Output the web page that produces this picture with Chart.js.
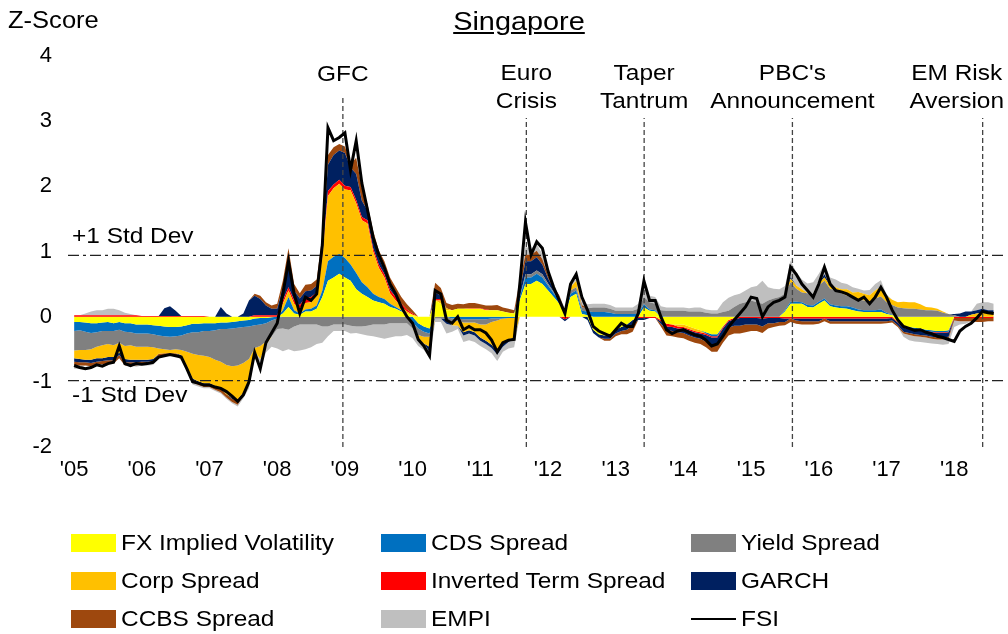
<!DOCTYPE html>
<html>
<head>
<meta charset="utf-8">
<script src="https://cdn.jsdelivr.net/npm/chart.js@4.4.1/dist/chart.umd.min.js"></script>
<style>
  html, body { margin: 0; padding: 0; background: #fff; }
  #wrap { position: relative; width: 1008px; height: 634px; font-family: "Liberation Sans", Arial, sans-serif; color: #000; }
  #chart { position: absolute; left: 0; top: 0; }
  #title { position: absolute; left: 0; width: 1038px; top: 6px; text-align: center; font-size: 26px; text-decoration: underline; transform: scaleX(1.11); transform-origin: 519px 50%; }
  #ylab { position: absolute; left: 8px; top: 7px; font-size: 23px; transform: scaleX(1.11); transform-origin: left center; }
  #legend { position: absolute; left: 71px; top: 524px; display: grid; grid-template-columns: 310px 310px 310px; grid-auto-rows: 38px; font-size: 22px; }
  .item { display: flex; align-items: center; }
  .item span.txt { display: inline-block; transform: scaleX(1.11); transform-origin: left center; white-space: nowrap; }
  .sw { width: 45px; height: 18px; margin-right: 5px; }
  .ln { width: 45px; height: 2px; margin-right: 5px; background: #000; }
</style>
</head>
<body>
<div id="wrap">
  <canvas id="chart" width="1008" height="634"></canvas>
  <div id="title">Singapore</div>
  <div id="ylab">Z-Score</div>
  <div id="legend"></div>
</div>
<script>
// monthly observations, Jan 2005 - Aug 2018
var fxVol = [
  -0.08,-0.08,-0.09,-0.10,-0.10,-0.09,-0.08,-0.10,-0.08,-0.10,-0.10,-0.12,
  -0.12,-0.12,-0.13,-0.14,-0.15,-0.16,-0.16,-0.15,-0.13,-0.11,-0.11,-0.10,
  -0.10,-0.10,-0.09,-0.09,-0.08,-0.07,-0.06,-0.05,-0.03,-0.02,-0.02,-0.01,
  0.00,0.05,0.15,0.05,0.03,0.08,0.08,0.12,0.30,0.55,0.60,0.66,
  0.60,0.55,0.42,0.35,0.30,0.25,0.22,0.20,0.15,0.12,0.08,0.05,
  0.03,-0.10,-0.15,-0.18,0.25,0.20,0.10,0.10,0.12,0.12,0.12,0.12,
  0.12,0.10,0.10,0.10,0.08,0.06,0.05,0.25,0.50,0.50,0.55,0.50,
  0.40,0.30,0.20,0.04,0.30,0.35,0.04,0.02,-0.20,-0.27,-0.29,-0.29,
  -0.20,-0.16,-0.12,-0.05,0.00,0.14,0.09,0.08,-0.05,-0.11,-0.12,-0.12,
  -0.12,-0.15,-0.18,-0.21,-0.24,-0.27,-0.27,-0.15,-0.05,-0.02,0.00,0.00,
  0.00,0.00,0.00,0.00,0.00,0.00,0.08,0.20,0.20,0.20,0.15,0.14,
  0.20,0.25,0.16,0.14,0.13,0.12,0.10,0.08,0.07,0.07,0.07,0.07,
  0.04,0.02,-0.08,-0.14,-0.16,-0.17,-0.18,-0.20,-0.21,-0.22,-0.22,-0.21,
  0.00,0.00,0.00,0.00,0.00,0.00,0.00,0.00
];
var cdsSpread = [
  -0.14,-0.13,-0.14,-0.15,-0.14,-0.13,-0.14,-0.12,-0.12,-0.13,-0.14,-0.14,
  -0.14,-0.14,-0.14,-0.15,-0.15,-0.15,-0.14,-0.14,-0.13,-0.13,-0.13,-0.12,
  -0.12,-0.11,-0.10,-0.10,-0.10,-0.10,-0.10,-0.10,-0.10,-0.10,-0.08,-0.05,
  -0.03,0.05,0.15,0.05,0.02,0.03,0.04,0.05,0.10,0.30,0.32,0.30,
  0.30,0.25,0.25,0.18,0.15,0.10,0.08,0.07,0.05,0.03,0.02,0.00,
  -0.08,-0.08,-0.08,-0.08,0.00,0.00,0.00,-0.03,-0.03,-0.04,-0.04,-0.04,
  -0.04,-0.04,-0.03,-0.03,-0.03,-0.02,-0.02,0.05,0.10,0.10,0.11,0.10,
  0.08,0.06,0.05,0.03,0.05,0.05,0.05,0.06,0.07,0.07,0.07,0.06,
  0.04,0.04,0.04,0.04,0.04,0.05,0.02,0.02,0.01,0.00,0.00,0.00,
  0.00,0.00,0.00,0.00,-0.02,-0.03,-0.03,-0.01,0.00,0.00,0.00,0.00,
  0.00,0.00,0.00,0.00,0.00,0.00,0.02,0.03,0.03,0.02,0.03,0.03,
  0.03,0.03,0.03,0.03,0.03,0.04,0.04,0.03,0.03,0.03,0.03,0.04,
  0.02,0.01,0.00,-0.02,-0.02,-0.03,-0.03,-0.02,-0.02,-0.02,-0.02,-0.02,
  0.00,0.00,0.00,0.00,0.00,0.00,0.00,0.00
];
var yieldSpread = [
  -0.30,-0.30,-0.28,-0.25,-0.22,-0.22,-0.20,-0.22,-0.20,-0.22,-0.20,-0.20,
  -0.20,-0.20,-0.20,-0.20,-0.20,-0.20,-0.20,-0.22,-0.28,-0.33,-0.35,-0.38,
  -0.40,-0.45,-0.50,-0.55,-0.58,-0.58,-0.55,-0.50,-0.35,-0.33,-0.28,-0.25,
  -0.16,-0.18,-0.20,-0.15,-0.12,-0.12,-0.12,-0.12,-0.15,-0.15,-0.12,-0.12,
  -0.12,-0.14,-0.15,-0.15,-0.14,-0.12,-0.12,-0.12,-0.10,-0.10,-0.10,-0.10,
  -0.10,-0.10,-0.08,-0.05,-0.03,-0.03,-0.03,-0.05,-0.03,-0.05,-0.05,-0.05,
  -0.08,-0.08,-0.05,-0.03,0.00,0.00,0.00,0.00,0.05,0.05,0.05,0.05,
  0.03,0.02,0.02,0.02,0.05,0.05,0.05,0.05,0.07,0.07,0.07,0.06,
  0.05,0.05,0.05,0.05,0.08,0.11,0.11,0.10,0.09,0.09,0.09,0.09,
  0.09,0.08,0.08,0.08,0.06,0.05,0.05,0.07,0.09,0.15,0.20,0.22,
  0.25,0.22,0.20,0.25,0.28,0.30,0.25,0.30,0.20,0.15,0.18,0.18,
  0.25,0.27,0.24,0.23,0.20,0.16,0.15,0.15,0.15,0.13,0.18,0.20,
  0.16,0.15,0.14,0.13,0.12,0.12,0.11,0.10,0.10,0.09,0.06,0.04,
  0.02,0.00,0.00,0.00,0.00,0.00,0.00,0.00
];
var corpSpread = [
  -0.12,-0.14,-0.15,-0.16,-0.18,-0.20,-0.20,-0.18,-0.15,-0.20,-0.22,-0.20,
  -0.20,-0.20,-0.18,-0.08,-0.06,-0.05,-0.06,-0.08,-0.22,-0.38,-0.40,-0.42,
  -0.40,-0.40,-0.42,-0.45,-0.48,-0.52,-0.45,-0.35,-0.05,-0.20,-0.05,0.00,
  0.00,0.10,0.10,0.10,0.08,0.10,0.10,0.15,0.50,1.00,1.05,1.08,
  1.05,1.14,1.07,0.95,0.98,0.65,0.45,0.33,0.16,0.10,0.06,0.03,
  0.00,-0.05,-0.10,-0.15,0.00,0.05,0.03,-0.05,-0.08,-0.15,-0.12,-0.15,
  -0.20,-0.25,-0.35,-0.47,-0.38,-0.33,-0.30,0.00,0.00,0.00,0.00,0.00,
  0.00,0.00,0.00,0.00,0.05,0.10,0.00,0.00,0.00,0.00,0.00,0.00,
  0.00,0.00,0.00,0.00,0.00,0.00,0.00,0.00,0.00,0.00,0.00,-0.03,
  -0.04,-0.04,-0.04,-0.03,0.00,0.00,0.00,0.00,0.00,0.00,0.00,0.00,
  0.00,0.00,0.00,0.00,0.00,0.00,0.00,0.05,0.05,0.05,0.00,0.00,
  0.03,0.05,0.05,0.05,0.06,0.10,0.08,0.12,0.10,0.10,0.12,0.15,
  0.10,0.08,0.08,0.10,0.10,0.10,0.08,0.05,0.04,0.03,0.02,0.00,
  0.00,0.00,0.00,0.03,0.05,0.06,0.05,0.05
];
var invTermSpread = [
  0.02,0.02,0.02,0.02,0.02,0.02,0.02,0.02,0.02,0.02,0.02,0.02,
  0.01,0.01,0.01,0.01,0.01,0.01,0.01,0.01,0.01,0.01,0.01,0.01,
  0.00,0.00,0.00,0.00,0.00,0.00,0.00,0.00,0.02,0.02,0.02,0.02,
  0.02,0.05,0.05,0.05,0.05,0.08,0.08,0.05,0.05,0.08,0.06,0.06,
  0.06,0.05,0.05,0.05,0.05,0.05,0.05,0.05,0.05,0.05,0.04,0.03,
  0.02,0.00,0.00,0.00,0.02,0.02,0.00,0.00,0.00,0.00,0.01,0.01,
  0.01,0.01,0.00,0.00,0.00,0.00,0.00,0.00,0.00,0.00,0.00,0.00,
  0.00,0.00,0.00,-0.04,0.00,0.00,0.00,0.00,0.00,0.00,0.00,0.00,
  0.00,0.00,0.00,0.00,-0.02,-0.02,-0.02,-0.02,-0.02,-0.04,-0.04,-0.03,
  -0.02,-0.02,-0.02,-0.02,-0.02,-0.02,-0.02,-0.02,-0.02,-0.02,-0.02,-0.02,
  -0.02,-0.02,-0.03,-0.02,-0.02,-0.02,-0.03,-0.03,-0.03,-0.03,-0.03,-0.03,
  -0.03,-0.03,-0.03,-0.03,-0.03,-0.03,-0.03,-0.03,-0.03,-0.03,-0.03,-0.03,
  -0.03,-0.02,-0.01,-0.01,-0.01,-0.01,-0.01,-0.01,-0.01,-0.01,-0.01,-0.01,
  -0.02,-0.02,-0.02,-0.02,-0.02,-0.02,-0.02,-0.02
];
var garch = [
  -0.05,-0.05,-0.04,-0.05,-0.05,-0.04,-0.05,-0.05,-0.04,-0.05,-0.04,-0.04,
  -0.03,-0.03,-0.03,0.00,0.12,0.15,0.08,-0.02,-0.02,-0.02,-0.02,-0.02,
  -0.02,-0.02,0.15,0.05,-0.02,-0.03,0.05,0.25,0.30,0.25,0.15,0.10,
  0.10,0.20,0.35,0.15,0.10,0.10,0.10,0.10,0.20,0.40,0.45,0.45,
  0.50,0.30,0.40,0.25,0.15,0.17,0.10,0.05,0.04,0.03,0.00,0.00,
  0.00,0.00,0.00,-0.08,0.10,0.05,-0.08,0.00,0.00,-0.05,-0.05,-0.05,
  -0.05,-0.05,-0.05,-0.05,-0.05,-0.04,-0.03,0.10,0.20,0.20,0.20,0.15,
  0.08,0.05,0.03,-0.03,0.00,0.00,0.00,-0.05,-0.05,-0.05,-0.05,-0.05,
  -0.06,-0.06,-0.08,-0.08,-0.03,-0.03,0.00,0.00,-0.04,-0.05,-0.06,-0.06,
  -0.07,-0.08,-0.08,-0.08,-0.10,-0.12,-0.12,-0.10,-0.10,-0.10,-0.12,-0.10,
  -0.10,-0.10,-0.12,-0.08,-0.08,-0.06,-0.05,0.03,-0.03,-0.04,-0.04,-0.04,
  -0.04,0.05,-0.04,-0.04,-0.04,-0.04,-0.04,-0.04,-0.04,-0.04,-0.04,-0.04,
  -0.04,-0.04,-0.04,-0.06,-0.06,-0.06,-0.06,-0.06,-0.07,-0.07,-0.07,-0.07,
  0.02,0.05,0.08,0.05,0.05,0.06,0.05,0.05
];
var ccbsSpread = [
  -0.05,-0.05,-0.05,-0.05,-0.05,-0.05,-0.05,-0.05,-0.05,-0.05,-0.05,-0.05,
  -0.04,-0.04,-0.04,-0.04,-0.04,-0.04,-0.04,-0.04,-0.04,-0.04,-0.04,-0.04,
  -0.04,-0.04,-0.05,-0.05,-0.05,-0.05,-0.05,-0.04,0.03,0.05,0.05,0.05,
  0.08,0.10,0.25,0.10,0.08,0.10,0.10,0.10,0.10,0.15,0.12,0.10,
  0.10,0.05,0.25,0.20,0.10,0.10,0.12,0.15,0.15,0.12,0.10,0.08,
  0.05,0.00,0.00,0.00,0.15,0.12,0.08,0.08,0.08,0.07,0.08,0.08,
  0.06,0.06,0.07,0.08,0.06,0.06,0.05,0.15,0.10,0.10,0.10,0.08,
  0.05,0.03,0.03,0.00,0.00,0.00,0.04,0.00,0.00,0.00,-0.03,-0.03,
  -0.04,-0.05,-0.07,-0.10,0.00,0.00,0.00,0.00,-0.04,-0.09,-0.08,-0.08,
  -0.08,-0.08,-0.08,-0.08,-0.09,-0.10,-0.10,-0.12,-0.12,-0.12,-0.12,-0.12,
  -0.10,-0.10,-0.10,-0.08,-0.06,-0.06,-0.05,-0.05,-0.05,-0.05,-0.05,-0.05,
  -0.04,-0.04,-0.04,-0.04,-0.04,-0.04,-0.04,-0.04,-0.04,-0.04,-0.04,-0.04,
  -0.03,-0.03,-0.03,-0.03,-0.03,-0.03,-0.03,-0.03,-0.03,-0.03,-0.03,-0.03,
  -0.04,-0.05,-0.05,-0.05,-0.06,-0.06,-0.05,-0.05
];
var empi = [
  -0.06,-0.05,0.03,0.06,0.08,0.08,0.10,0.10,0.08,0.04,0.02,-0.02,
  -0.02,-0.02,-0.02,0.00,0.00,0.00,0.00,-0.02,-0.02,-0.03,-0.02,-0.02,
  -0.02,-0.02,-0.02,-0.02,-0.02,-0.03,-0.04,-0.06,-0.10,-0.15,-0.12,-0.15,
  -0.30,-0.35,-0.30,-0.38,-0.40,-0.38,-0.35,-0.30,-0.25,-0.15,-0.10,-0.10,
  -0.10,-0.12,-0.10,-0.12,-0.15,-0.18,-0.20,-0.22,-0.22,-0.20,-0.20,-0.18,
  -0.15,-0.12,-0.10,-0.10,-0.05,-0.05,-0.15,-0.10,-0.05,-0.10,-0.10,-0.10,
  -0.08,-0.08,-0.08,-0.10,-0.08,-0.10,-0.12,0.05,0.12,0.10,0.10,0.08,
  0.05,0.00,0.00,0.03,0.05,0.05,0.05,0.06,0.06,0.06,0.06,0.06,
  0.05,0.05,0.05,0.05,0.08,0.25,0.10,0.10,0.06,0.05,0.05,0.05,
  0.05,0.05,0.06,0.06,0.05,0.05,0.05,0.15,0.20,0.18,0.15,0.18,
  0.20,0.25,0.35,0.20,0.15,0.12,0.12,0.25,0.20,0.15,0.15,0.18,
  0.15,0.16,0.12,0.12,0.10,0.08,0.08,0.05,0.05,0.08,0.10,0.10,
  0.02,0.00,0.00,-0.05,-0.08,-0.08,-0.08,-0.08,-0.07,-0.07,-0.08,-0.08,
  -0.10,-0.05,-0.04,0.00,0.10,0.10,0.12,0.10
];
var fsi = [
  -0.75,-0.78,-0.80,-0.78,-0.74,-0.76,-0.72,-0.70,-0.45,-0.72,-0.75,-0.72,
  -0.73,-0.72,-0.70,-0.62,-0.60,-0.58,-0.60,-0.62,-0.80,-1.00,-1.02,-1.05,
  -1.05,-1.08,-1.10,-1.15,-1.22,-1.30,-1.20,-1.00,-0.55,-0.80,-0.40,-0.25,
  -0.10,0.35,0.85,0.35,0.05,0.30,0.25,0.35,1.10,2.90,2.70,2.75,
  2.82,2.25,2.70,2.05,1.64,1.22,0.95,0.75,0.50,0.35,0.15,0.00,
  -0.10,-0.35,-0.45,-0.60,0.40,0.35,-0.05,-0.10,0.00,-0.20,-0.15,-0.20,
  -0.20,-0.25,-0.36,-0.54,-0.40,-0.36,-0.35,0.50,1.45,0.95,1.15,1.05,
  0.70,0.45,0.25,0.05,0.50,0.65,0.30,0.10,-0.15,-0.22,-0.26,-0.30,
  -0.20,-0.10,-0.15,-0.15,0.05,0.55,0.25,0.25,0.00,-0.20,-0.26,-0.22,
  -0.20,-0.24,-0.28,-0.30,-0.36,-0.45,-0.42,-0.30,-0.16,-0.05,0.05,0.15,
  0.30,0.28,0.00,0.15,0.22,0.25,0.30,0.76,0.65,0.50,0.40,0.30,
  0.50,0.76,0.50,0.40,0.38,0.35,0.30,0.25,0.30,0.20,0.30,0.45,
  0.30,0.10,-0.05,-0.15,-0.18,-0.21,-0.20,-0.24,-0.26,-0.30,-0.32,-0.35,
  -0.38,-0.22,-0.15,-0.10,-0.02,0.08,0.06,0.05
];

var yearTicks = [2005,2006,2007,2008,2009,2010,2011,2012,2013,2014,2015,2016,2017,2018];
var eventDates = [2008.97, 2011.68, 2013.42, 2015.61, 2018.42];
var eventNames = [['GFC'], ['Euro', 'Crisis'], ['Taper', 'Tantrum'], ["PBC's", 'Announcement'], ['EM Risk', 'Aversion']];
var eventTops = [3.36, 3.05, 3.05, 3.05, 3.05];
var stdBands = [0.94, -0.98];
var xMin = 2004.91, xMax = 2018.75;

var components = [
  ['FX Implied Volatility', fxVol, '#FFFF00'],
  ['CDS Spread', cdsSpread, '#0070C0'],
  ['Yield Spread', yieldSpread, '#808080'],
  ['Corp Spread', corpSpread, '#FFC000'],
  ['Inverted Term Spread', invTermSpread, '#FF0000'],
  ['GARCH', garch, '#002060'],
  ['CCBS Spread', ccbsSpread, '#9E480E'],
  ['EMPI', empi, '#BFBFBF']
];

var textStretch = 1.11;

var dates = [];
for (var i = 0; i < fsi.length; i++) {
  dates.push(2005 + i / 12);
}

function pts(vals) {
  return vals.map(function (v, i) { return {x: dates[i], y: v}; });
}

var datasets = [];
datasets.push({
  label: 'FSI', data: pts(fsi), stack: 'fsi',
  borderColor: '#000', borderWidth: 3, pointRadius: 0, fill: false
});
eventDates.forEach(function (d, k) {
  datasets.push({
    label: 'ev' + k, data: [{x: d, y: -2}, {x: d, y: eventTops[k]}], stack: 'ev' + k,
    borderColor: '#444', borderWidth: 1.3, borderDash: [5, 3], pointRadius: 0, fill: false
  });
});
stdBands.forEach(function (v, k) {
  datasets.push({
    label: 'std' + k, data: [{x: xMin, y: v}, {x: xMax, y: v}], stack: 'std' + k,
    borderColor: '#222', borderWidth: 1.3, borderDash: [11, 4, 3, 4], pointRadius: 0, fill: false
  });
});
['pos', 'neg'].forEach(function (side) {
  components.forEach(function (c, k) {
    var vals = c[1].map(function (v) { return side == 'pos' ? Math.max(v, 0) : Math.min(v, 0); });
    datasets.push({
      label: c[0], data: pts(vals), stack: side,
      backgroundColor: c[2], borderWidth: 0, pointRadius: 0,
      fill: k == 0 ? 'origin' : '-1'
    });
  });
});

function stretchedText(ctx, s, x, y, align) {
  var w = ctx.measureText(s).width * textStretch;
  var left = align == 'center' ? x - w / 2 : x;
  ctx.save();
  ctx.translate(left, y);
  ctx.scale(textStretch, 1);
  ctx.textAlign = 'left';
  ctx.fillText(s, 0, 0);
  ctx.restore();
}

var annotations = {
  id: 'annotations',
  afterDraw: function (chart) {
    var ctx = chart.ctx, xs = chart.scales.x, ys = chart.scales.y;
    ctx.save();
    ctx.fillStyle = '#000';
    ctx.font = '22px "Liberation Sans", Arial, sans-serif';
    ctx.textBaseline = 'middle';
    eventNames.forEach(function (lines, k) {
      var px = xs.getPixelForValue(eventDates[k]);
      var w = Math.max.apply(null, lines.map(function (s) { return ctx.measureText(s).width; })) * textStretch;
      var cx = Math.min(px, chart.width - 4 - w / 2);
      var y0 = lines.length == 1 ? 75 : 74;
      lines.forEach(function (s, j) { stretchedText(ctx, s, cx, y0 + j * 28, 'center'); });
    });
    stretchedText(ctx, '+1 Std Dev', 72, ys.getPixelForValue(stdBands[0]) - 18, 'left');
    stretchedText(ctx, '-1 Std Dev', 72, ys.getPixelForValue(stdBands[1]) + 15, 'left');
    ctx.restore();
  }
};

new Chart(document.getElementById('chart'), {
  type: 'line',
  data: {datasets: datasets},
  plugins: [annotations],
  options: {
    responsive: false,
    animation: false,
    events: [],
    layout: {padding: {top: 56, right: 3, left: 0, bottom: 0}},
    plugins: {legend: {display: false}, tooltip: {enabled: false}, title: {display: false}},
    elements: {line: {tension: 0}},
    scales: {
      x: {
        type: 'linear', min: xMin, max: xMax,
        grid: {display: false, drawTicks: false}, border: {display: false},
        afterBuildTicks: function (s) { s.ticks = yearTicks.map(function (v) { return {value: v}; }); },
        afterFit: function (s) { s.height = 634 - 447; },
        ticks: {
          padding: 10, color: '#000', maxRotation: 0, autoSkip: false,
          font: {family: '"Liberation Sans", Arial, sans-serif', size: 22},
          callback: function (v) { return "'" + String(v).slice(2); }
        }
      },
      y: {
        stacked: true, min: -2, max: 4,
        grid: {display: false, drawTicks: false}, border: {display: false},
        afterFit: function (s) { s.width = 68; },
        ticks: {
          stepSize: 1, padding: 16, color: '#000',
          font: {family: '"Liberation Sans", Arial, sans-serif', size: 22}
        }
      }
    }
  }
});

// legend
var legend = document.getElementById('legend');
components.concat([['FSI', null, null]]).forEach(function (c) {
  var item = document.createElement('div');
  item.className = 'item';
  var mark = document.createElement('span');
  if (c[2]) { mark.className = 'sw'; mark.style.background = c[2]; } else { mark.className = 'ln'; }
  item.appendChild(mark);
  var txt = document.createElement('span');
  txt.className = 'txt';
  txt.textContent = c[0];
  item.appendChild(txt);
  legend.appendChild(item);
});
</script>
</body>
</html>
